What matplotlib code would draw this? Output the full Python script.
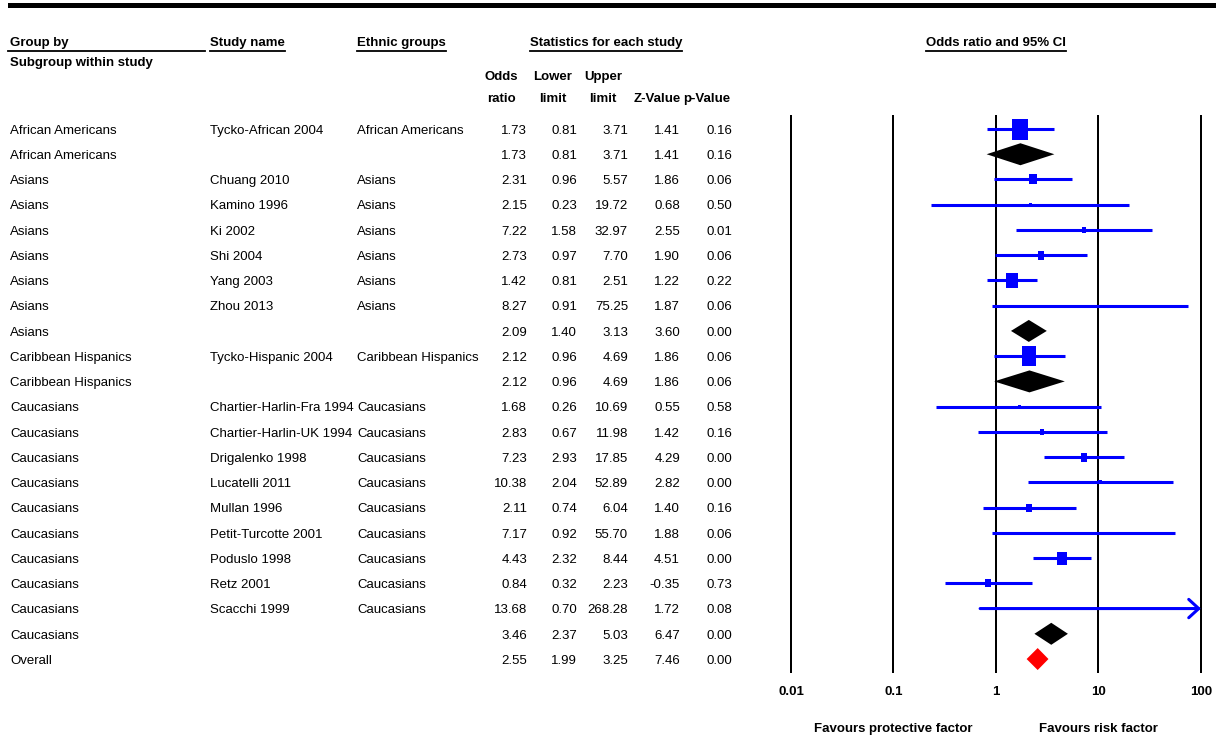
import numpy as np
import matplotlib
matplotlib.use('Agg')
import matplotlib.pyplot as plt
from matplotlib import font_manager, transforms
from matplotlib.path import Path
from matplotlib.patches import Polygon, Rectangle
from matplotlib.lines import Line2D
from matplotlib.ticker import NullLocator

W, H = 1216, 739

# ---- data ----
groups = ["African Americans", "African Americans",
          "Asians", "Asians", "Asians", "Asians", "Asians", "Asians", "Asians",
          "Caribbean Hispanics", "Caribbean Hispanics",
          "Caucasians", "Caucasians", "Caucasians", "Caucasians", "Caucasians",
          "Caucasians", "Caucasians", "Caucasians", "Caucasians", "Caucasians",
          "Overall"]
studies = ["Tycko-African 2004", "",
           "Chuang 2010", "Kamino 1996", "Ki 2002", "Shi 2004", "Yang 2003", "Zhou 2013", "",
           "Tycko-Hispanic 2004", "",
           "Chartier-Harlin-Fra 1994", "Chartier-Harlin-UK 1994", "Drigalenko 1998",
           "Lucatelli 2011", "Mullan 1996", "Petit-Turcotte 2001", "Poduslo 1998",
           "Retz 2001", "Scacchi 1999", "",
           ""]
ethnic = ["African Americans", "",
          "Asians", "Asians", "Asians", "Asians", "Asians", "Asians", "",
          "Caribbean Hispanics", "",
          "Caucasians", "Caucasians", "Caucasians", "Caucasians", "Caucasians",
          "Caucasians", "Caucasians", "Caucasians", "Caucasians", "",
          ""]
odds = [1.73, 1.73, 2.31, 2.15, 7.22, 2.73, 1.42, 8.27, 2.09, 2.12, 2.12,
        1.68, 2.83, 7.23, 10.38, 2.11, 7.17, 4.43, 0.84, 13.68, 3.46, 2.55]
lower = [0.81, 0.81, 0.96, 0.23, 1.58, 0.97, 0.81, 0.91, 1.40, 0.96, 0.96,
         0.26, 0.67, 2.93, 2.04, 0.74, 0.92, 2.32, 0.32, 0.70, 2.37, 1.99]
upper = [3.71, 3.71, 5.57, 19.72, 32.97, 7.70, 2.51, 75.25, 3.13, 4.69, 4.69,
         10.69, 11.98, 17.85, 52.89, 6.04, 55.70, 8.44, 2.23, 268.28, 5.03, 3.25]
zval = [1.41, 1.41, 1.86, 0.68, 2.55, 1.90, 1.22, 1.87, 3.60, 1.86, 1.86,
        0.55, 1.42, 4.29, 2.82, 1.40, 1.88, 4.51, -0.35, 1.72, 6.47, 7.46]
pval = [0.16, 0.16, 0.06, 0.50, 0.01, 0.06, 0.22, 0.06, 0.00, 0.06, 0.06,
        0.58, 0.16, 0.00, 0.00, 0.16, 0.06, 0.00, 0.73, 0.08, 0.00, 0.00]
kind = ["study", "sub", "study", "study", "study", "study", "study", "study", "sub",
        "study", "sub", "study", "study", "study", "study", "study", "study",
        "study", "study", "study", "sub", "overall"]
# box heights (pixels) ~ study weight
box_px = [21, 0, 10, 4, 6, 9, 15, 3, 0, 20, 0, 4, 6, 9, 5, 8, 3, 13, 8, 2, 0, 0]

ticks = [0.01, 0.1, 1, 10, 100]
tick_labels = ["0.01", "0.1", "1", "10", "100"]

installed = {f.name for f in font_manager.fontManager.ttflist}
if "Liberation Sans Narrow" in installed:
    FONT, FS = "Liberation Sans Narrow", 11.5
else:
    FONT, FS = "Liberation Sans", 9.5
plt.rcParams["font.family"] = FONT

BLUE = "#0000ff"


def fx(x):
    return x / W


def fy(y):
    return 1 - y / H


fig = plt.figure(figsize=(W / 100, H / 100), dpi=100)

# forest panel
ROW0, STEP = 129, 25.24
ax = fig.add_axes([fx(791), fy(672), (1201 - 791) / W, (672 - 116) / H])
ax.set_xscale("log")
ax.set_xlim(0.01, 100)
ax.set_ylim((672 - ROW0) / STEP, (116 - ROW0) / STEP)
for s in ax.spines.values():
    s.set_visible(False)
ax.set_yticks([])
ax.set_xticks(ticks)
ax.set_xticklabels(tick_labels, fontweight="bold", fontsize=FS)
ax.xaxis.set_minor_locator(NullLocator())
ax.tick_params(axis="x", length=0, pad=10)
for t in ticks:
    ax.axvline(t, color="black", lw=1.44, zorder=1, clip_on=False)

box = Path([(-0.375, -0.5), (0.375, -0.5), (0.375, 0.5), (-0.375, 0.5), (-0.375, -0.5)],
           [Path.MOVETO, Path.LINETO, Path.LINETO, Path.LINETO, Path.CLOSEPOLY])
half = 11 / STEP

for i in range(len(odds)):
    if kind[i] == "study":
        if upper[i] > 100:
            ax.annotate("", xy=(100, i), xytext=(lower[i], i), annotation_clip=False,
                        arrowprops=dict(arrowstyle="->,head_length=0.6,head_width=0.55",
                                        color=BLUE, lw=2.2, shrinkA=0, shrinkB=0,
                                        mutation_scale=12))
        else:
            ax.hlines(i, lower[i], upper[i], color=BLUE, lw=2.2, zorder=3)
        ax.plot(odds[i], i, marker=box, ms=box_px[i] * 0.72, color=BLUE,
                mew=0, zorder=4, clip_on=False)
    else:
        col = "red" if kind[i] == "overall" else "black"
        ax.add_patch(Polygon([(lower[i], i), (odds[i], i - half), (upper[i], i),
                              (odds[i], i + half)], closed=True, facecolor=col,
                             edgecolor="none", zorder=4))

# table text on the same row scale, baseline shifted so caps sit centred on the row
tr = transforms.blended_transform_factory(fig.transFigure, ax.transData)
tr = transforms.offset_copy(tr, fig=fig, x=0, y=-4.7, units="dots")
num_cols = [(527, odds), (577, lower), (628, upper), (680, zval), (732, pval)]
for i in range(len(odds)):
    ax.text(fx(10), i, groups[i], transform=tr, ha="left", va="baseline", fontsize=FS)
    ax.text(fx(210), i, studies[i], transform=tr, ha="left", va="baseline", fontsize=FS)
    ax.text(fx(357), i, ethnic[i], transform=tr, ha="left", va="baseline", fontsize=FS)
    for xr, vals in num_cols:
        ax.text(fx(xr), i, f"{vals[i]:.2f}", transform=tr, ha="right",
                va="baseline", fontsize=FS)

# headers
hdr = dict(fontsize=FS, fontweight="bold", va="baseline")
underlined = []
underlined.append(fig.text(fx(10), fy(46), "Group by", ha="left", **hdr))
fig.text(fx(10), fy(66), "Subgroup within study", ha="left", **hdr)
underlined.append(fig.text(fx(210), fy(46), "Study name", ha="left", **hdr))
underlined.append(fig.text(fx(357), fy(46), "Ethnic groups", ha="left", **hdr))
underlined.append(fig.text(fx(606), fy(46), "Statistics for each study", ha="center", **hdr))
underlined.append(fig.text(fx(996), fy(46), "Odds ratio and 95% CI", ha="center", **hdr))
for xc, top, bottom in [(501, "Odds", "ratio"), (553, "Lower", "limit"),
                        (603, "Upper", "limit"), (657, "", "Z-Value"),
                        (707, "", "p-Value")]:
    if top:
        fig.text(fx(xc), fy(80), top, ha="center", **hdr)
    fig.text(fx(xc), fy(102), bottom, ha="center", **hdr)

fig.canvas.draw()
renderer = fig.canvas.get_renderer()
for k, t in enumerate(underlined):
    bb = t.get_window_extent(renderer)
    x0, x1 = bb.x0, bb.x1
    if k == 0:
        x0, x1 = 8, 205
    fig.add_artist(Line2D([x0 / W, x1 / W], [fy(51), fy(51)], transform=fig.transFigure,
                          color="black", lw=1.3))

# favours labels under the axis
trx = transforms.blended_transform_factory(ax.transData, fig.transFigure)
ax.text(0.1, fy(729), "Favours protective factor", transform=trx, ha="center",
        va="center", fontsize=FS, fontweight="bold")
ax.text(10, fy(729), "Favours risk factor", transform=trx, ha="center",
        va="center", fontsize=FS, fontweight="bold")

# thick top rule
fig.add_artist(Rectangle((fx(8), fy(8)), 1 - fx(8), 5 / H, transform=fig.transFigure,
                         facecolor="black", edgecolor="none"))

fig.savefig("out.png", dpi=100)
